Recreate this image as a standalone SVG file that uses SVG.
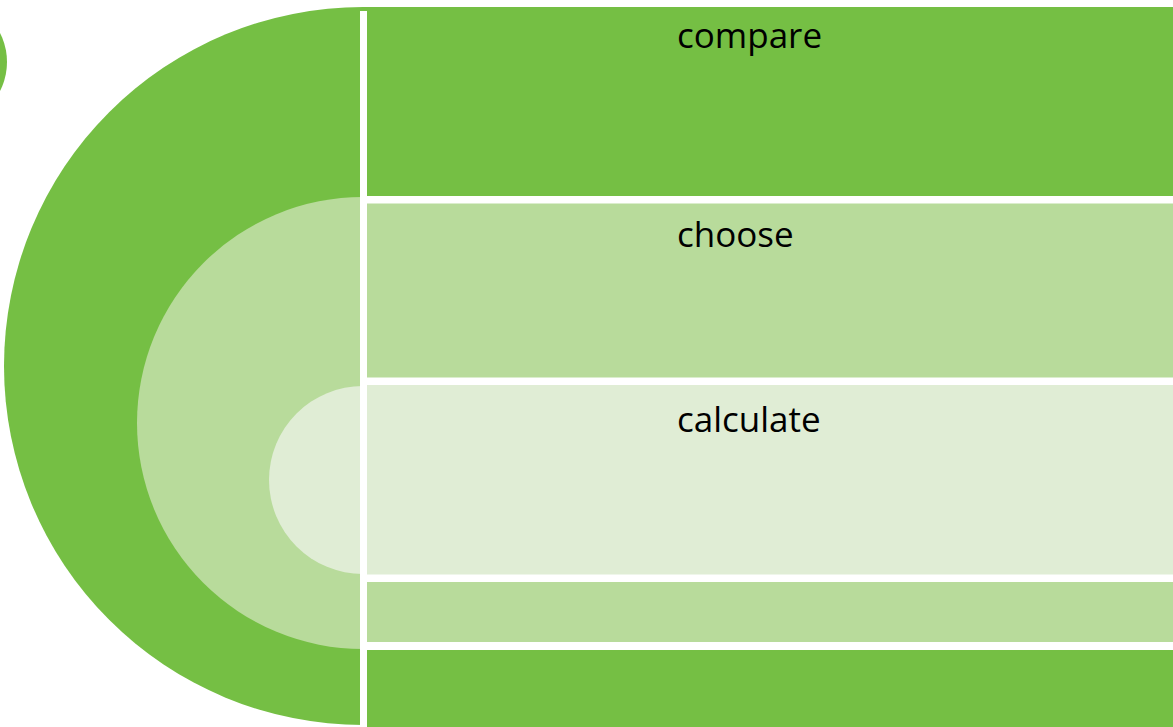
<svg xmlns="http://www.w3.org/2000/svg" width="1173" height="727" viewBox="0 0 1173 727">
<style>
.d{fill:#75BF44}
.l{fill:#B8DB9B}
.v{fill:#E0EDD5}
.t{font-family:"Open Sans","Noto Sans",sans-serif;font-size:35px;fill:#000}
</style>
<rect width="1173" height="727" fill="#fff"/>
<g id="small-circle"><circle class="d" cx="-57" cy="62" r="64"/></g>
<g id="arcs">
<path class="d" d="M363,7 A358,358 0 0 0 363,725 Z"/>
<path class="l" d="M363,197 A226,226 0 0 0 363,649 Z"/>
<path class="v" d="M363,386 A94,94 0 0 0 363,574 Z"/>
</g>
<g id="bands">
<rect class="d" x="363" y="7" width="810" height="189"/>
<rect class="l" x="363" y="203.5" width="810" height="174"/>
<rect class="v" x="363" y="385" width="810" height="189.5"/>
<rect class="l" x="363" y="582" width="810" height="60"/>
<rect class="d" x="363" y="650" width="810" height="77"/>
</g>
<g id="divider"><rect x="360" y="11" width="7" height="716" fill="#fff"/></g>
<g id="labels">
<text class="t" x="677" y="48">compare</text>
<text class="t" x="677" y="247">choose</text>
<text class="t" x="677" y="432">calculate</text>
</g>
</svg>
